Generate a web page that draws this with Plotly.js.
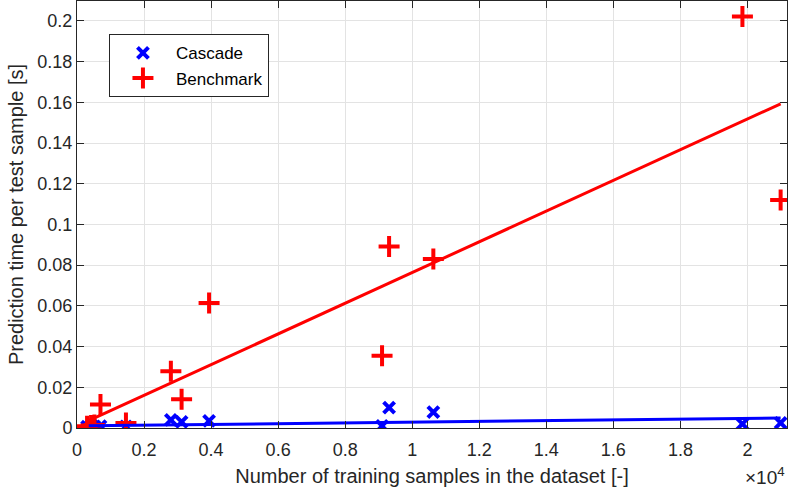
<!DOCTYPE html>
<html>
<head>
<meta charset="utf-8">
<script src="https://cdn.plot.ly/plotly-3.0.1.min.js"></script>
<style>html,body{margin:0;padding:0;background:#fff;}#chart{width:789px;height:490px;}</style>
</head>
<body>
<div id="chart"></div>
<script>
// Training set sizes (samples)
const trainSizes = [300, 420, 520, 700, 1460, 2800, 3120, 3940, 9100, 9310, 10630, 19850, 20990];
// Prediction time per test sample [s]
const cascadeTimes = [0.0006, 0.0010, 0.0008, 0.0009, 0.0008, 0.0040, 0.0030, 0.0035, 0.0010, 0.0100, 0.0078, 0.0020, 0.0025];
const benchmarkTimes = [0.0008, 0.0012, 0.0015, 0.0116, 0.0025, 0.0279, 0.0141, 0.0614, 0.0355, 0.0892, 0.0830, 0.2022, 0.1120];
// Linear fit end points
const fitX = [350, 20990];
const cascadeFit = [0.0011, 0.0049];
const benchmarkFit = [0.0036, 0.1593];
// Tick labels
const xTickVals = [0, 2000, 4000, 6000, 8000, 10000, 12000, 14000, 16000, 18000, 20000];
const xTickText = ['0', '0.2', '0.4', '0.6', '0.8', '1', '1.2', '1.4', '1.6', '1.8', '2'];
const yTickVals = [0, 0.02, 0.04, 0.06, 0.08, 0.1, 0.12, 0.14, 0.16, 0.18, 0.2];
const yTickText = ['0', '0.02', '0.04', '0.06', '0.08', '0.1', '0.12', '0.14', '0.16', '0.18', '0.2'];

const FONT = 'Liberation Sans, Arial, Helvetica, sans-serif';
const AX = '#262626';

const traces = [
  {x: trainSizes, y: cascadeTimes, mode: 'markers', name: 'Cascade', type: 'scatter',
   marker: {symbol: 'x-thin-open', size: 11, color: '#0000ff', line: {color: '#0000ff', width: 4}}},
  {x: trainSizes, y: benchmarkTimes, mode: 'markers', name: 'Benchmark', type: 'scatter',
   marker: {symbol: 'cross-thin-open', size: 15, color: '#ff0000', line: {color: '#ff0000', width: 4}}},
  {x: fitX, y: benchmarkFit, mode: 'lines', showlegend: false, type: 'scatter',
   line: {color: '#ff0000', width: 3}},
  {x: fitX, y: cascadeFit, mode: 'lines', showlegend: false, type: 'scatter',
   line: {color: '#0000ff', width: 3}}
];

const axisCommon = {
  showline: true, linecolor: AX, linewidth: 1, mirror: 'ticks',
  ticks: 'inside', ticklen: 7, tickcolor: AX, tickwidth: 1,
  showgrid: true, gridcolor: '#e3e3e3', gridwidth: 1,
  zeroline: false, tickfont: {family: FONT, size: 18, color: AX}
};

const layout = {
  width: 789, height: 490,
  margin: {l: 77, r: 2, t: 1, b: 62},
  paper_bgcolor: '#ffffff', plot_bgcolor: '#ffffff',
  font: {family: FONT, color: AX},
  showlegend: true,
  legend: {x: 0.045, y: 0.922, xanchor: 'left', yanchor: 'top',
           bordercolor: AX, borderwidth: 1, bgcolor: '#ffffff',
           font: {family: FONT, size: 17, color: '#000'}, itemwidth: 56, tracegroupgap: 0},
  xaxis: Object.assign({}, axisCommon, {
    range: [0, 21180], tickmode: 'array', tickvals: xTickVals, ticktext: xTickText,
    ticklabelstandoff: 5,
    title: {text: 'Number of training samples in the dataset [-]', font: {family: FONT, size: 20, color: AX}, standoff: 10}
  }),
  yaxis: Object.assign({}, axisCommon, {
    range: [0, 0.2098], tickmode: 'array', tickvals: yTickVals, ticktext: yTickText,
    title: {text: 'Prediction time per test sample [s]', font: {family: FONT, size: 20, color: AX}, standoff: 8}
  }),
  annotations: [
    {xref: 'paper', yref: 'paper', x: 1, y: 0, xanchor: 'right', yanchor: 'top', yshift: -34,
     text: '×10<sup>4</sup>', showarrow: false, font: {family: FONT, size: 19, color: AX}}
  ]
};

Plotly.newPlot('chart', traces, layout, {displayModeBar: false, staticPlot: true});
</script>
</body>
</html>
